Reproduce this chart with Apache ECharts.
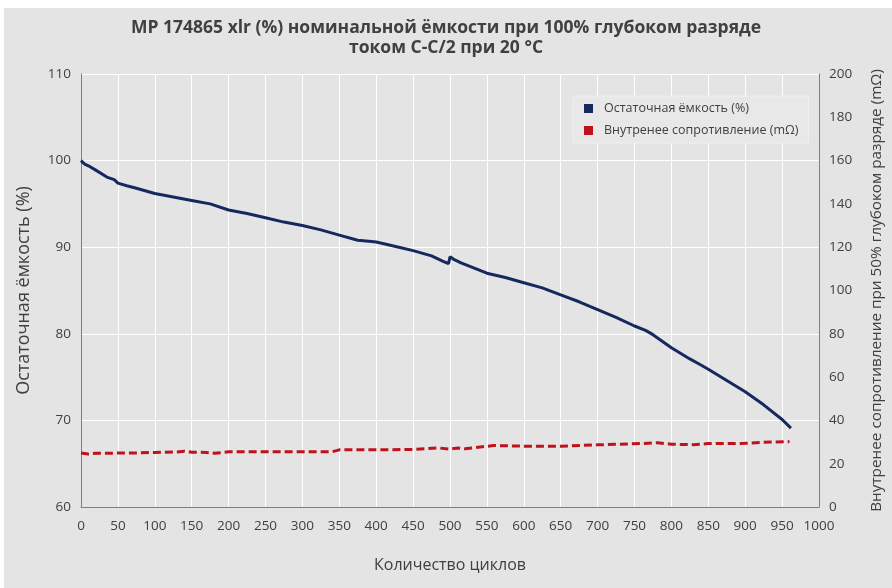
<!DOCTYPE html>
<html><head><meta charset="utf-8">
<script src="https://cdn.jsdelivr.net/npm/echarts@6/dist/echarts.min.js"></script>
<style>html,body{margin:0;padding:0;background:#fff}#c{width:892px;height:588px}</style>
</head><body><div id="c"></div><script>
const titleText = 'MP 174865 xlr (%) номинальной ёмкости при 100% глубоком разряде\nтоком C-C/2 при 20 °C';
const xAxisName = 'Количество циклов';
const leftAxisName = 'Остаточная ёмкость (%)';
const rightAxisName = 'Внутренее сопротивление при 50% глубоком разряде (mΩ)';
const capName = 'Остаточная ёмкость (%)';
const resName = 'Внутренее сопротивление (mΩ)';

const capCycles = [0,5,10,20,35,45,50,62,75,100,125,150,175,200,225,250,275,300,325,350,375,390,400,425,450,475,490,498,500,505,515,550,575,600,625,650,675,700,725,750,765,775,800,825,840,850,875,900,925,950,962];
const capValues = [100.0,99.6,99.4,98.9,98.1,97.8,97.4,97.1,96.8,96.2,95.8,95.4,95.0,94.3,93.9,93.4,92.9,92.5,92.0,91.4,90.8,90.7,90.6,90.1,89.6,89.0,88.4,88.1,88.9,88.6,88.2,87.0,86.5,85.9,85.3,84.5,83.7,82.8,81.9,80.9,80.4,79.9,78.4,77.1,76.4,75.9,74.6,73.3,71.8,70.1,69.1];

const resCycles = [0,10,20,50,80,100,130,140,150,170,181,200,250,300,340,350,400,450,484,500,511,520,559,600,650,680,700,760,781,800,830,850,900,925,960];
const resValues = [24.9,24.5,24.8,24.9,25.0,25.2,25.4,25.8,25.3,25.2,24.8,25.5,25.5,25.5,25.5,26.4,26.4,26.6,27.3,26.7,27.3,26.9,28.4,28.1,28.1,28.5,28.7,29.3,29.7,29.0,28.8,29.3,29.4,29.9,30.2];

const xMin = 0, xMax = 1000, xStep = 50;
const yLeftMin = 60, yLeftMax = 110, yLeftStep = 10;
const yRightMin = 0, yRightMax = 200, yRightStep = 20;

const capData = capCycles.map((c, i) => [c, capValues[i]]);
const resData = resCycles.map((c, i) => [c, resValues[i]]);

const FONT = 'Open Sans';
const TXT = '#404040';
const chart = echarts.init(document.getElementById('c'), null, {renderer: 'canvas'});
chart.setOption({
  backgroundColor: '#ffffff',
  animation: false,
  graphic: [{type: 'rect', z: -10, silent: true, shape: {x: 4, y: 8, width: 888, height: 580}, style: {fill: '#e4e4e4'}}],
  title: {
    text: titleText, left: 'center', top: 13,
    textStyle: {fontFamily: FONT, fontSize: 17.5, fontWeight: 'bold', color: TXT, lineHeight: 20, align: 'center'}
  },
  legend: {
    orient: 'vertical', left: 573, top: 96,
    icon: 'rect', itemWidth: 9, itemHeight: 9, itemGap: 9,
    backgroundColor: '#e8e8e8', borderColor: '#efefef', borderWidth: 1,
    padding: [6, 10, 6, 11],
    textStyle: {fontFamily: FONT, fontSize: 12.5, color: TXT, padding: [0, 0, 0, 6]},
    data: [capName, resName]
  },
  grid: {left: 81, right: 70, top: 74, bottom: 81, containLabel: false},
  xAxis: {
    type: 'value', min: xMin, max: xMax, interval: xStep,
    name: xAxisName, nameLocation: 'middle', nameGap: 50,
    nameTextStyle: {fontFamily: FONT, fontSize: 16, color: TXT},
    axisLine: {show: true, lineStyle: {color: '#7f7f7f', width: 1}},
    axisTick: {show: false},
    axisLabel: {fontFamily: FONT, fontSize: 13.5, color: TXT, margin: 12, formatter: v => String(v)},
    splitLine: {show: true, lineStyle: {color: '#ffffff', width: 1}}
  },
  yAxis: [{
    type: 'value', min: yLeftMin, max: yLeftMax, interval: yLeftStep, position: 'left',
    name: leftAxisName, nameLocation: 'middle', nameGap: 48, nameRotate: 90,
    nameTextStyle: {fontFamily: FONT, fontSize: 18, color: TXT},
    axisLine: {show: true, lineStyle: {color: '#7f7f7f', width: 1}},
    axisTick: {show: false},
    axisLabel: {fontFamily: FONT, fontSize: 13.5, color: TXT, margin: 10},
    splitLine: {show: true, lineStyle: {color: '#ffffff', width: 1}}
  }, {
    type: 'value', min: yRightMin, max: yRightMax, interval: yRightStep, position: 'right',
    name: rightAxisName, nameLocation: 'middle', nameGap: 50, nameRotate: 90,
    nameTextStyle: {fontFamily: FONT, fontSize: 15.3, color: TXT},
    axisLine: {show: true, lineStyle: {color: '#7f7f7f', width: 1}},
    axisTick: {show: false},
    axisLabel: {fontFamily: FONT, fontSize: 13.5, color: TXT, margin: 10},
    splitLine: {show: false}
  }],
  series: [{
    name: capName, type: 'line', yAxisIndex: 0, data: capData,
    showSymbol: false, symbol: 'none',
    itemStyle: {color: '#16295e'},
    lineStyle: {color: '#16295e', width: 3}
  }, {
    name: resName, type: 'line', yAxisIndex: 1, data: resData,
    showSymbol: false, symbol: 'none',
    itemStyle: {color: '#c0121c'},
    lineStyle: {color: '#c0121c', width: 3, type: [8, 4]}
  }]
});
</script></body></html>
